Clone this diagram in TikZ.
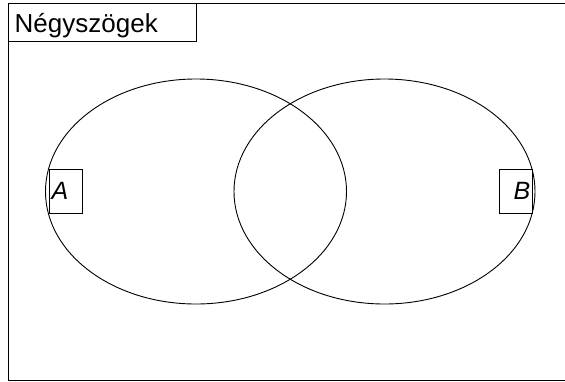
\documentclass[tikz,border=0pt]{standalone}
\usepackage{fontspec}
\setmainfont{Liberation Sans}
\usetikzlibrary{shapes.geometric}
\begin{document}
\begin{tikzpicture}[x=1pt,y=-1pt,
  line/.style={draw=black,line width=0.9pt},
  set/.style={line,ellipse,minimum width=301pt,minimum height=225pt,inner sep=0pt},
  lblbox/.style={line,rectangle,minimum width=33pt,minimum height=44pt,inner sep=0pt},
  lbltext/.style={inner sep=0pt,font=\fontsize{25}{25}\selectfont\itshape},
  titletext/.style={inner sep=0pt,anchor=base west,font=\fontsize{26}{26}\selectfont}]
\useasboundingbox (0,0) rectangle (565,381);
\clip (0,0) rectangle (565,381);
\fill[white] (0,0) rectangle (565,381);
\node[line,rectangle,inner sep=0pt,minimum width=570pt,minimum height=377pt,anchor=north west] (frame) at (7.5,3) {};
\node[line,rectangle,inner sep=0pt,minimum width=188.5pt,minimum height=38pt,anchor=north west] (titlebox) at (7.5,3) {};
\node[titletext] (title) at (14.5,32) {Négyszögek};
\node[set] (setA) at (196,191.5) {};
\node[set] (setB) at (384.5,191.5) {};
\node[lblbox] (boxA) at (65.5,191) {};
\node[lbltext] (textA) at (60,191) {A};
\node[lblbox] (boxB) at (516,191) {};
\node[lbltext] (textB) at (522,191) {B};
\end{tikzpicture}
\end{document}
